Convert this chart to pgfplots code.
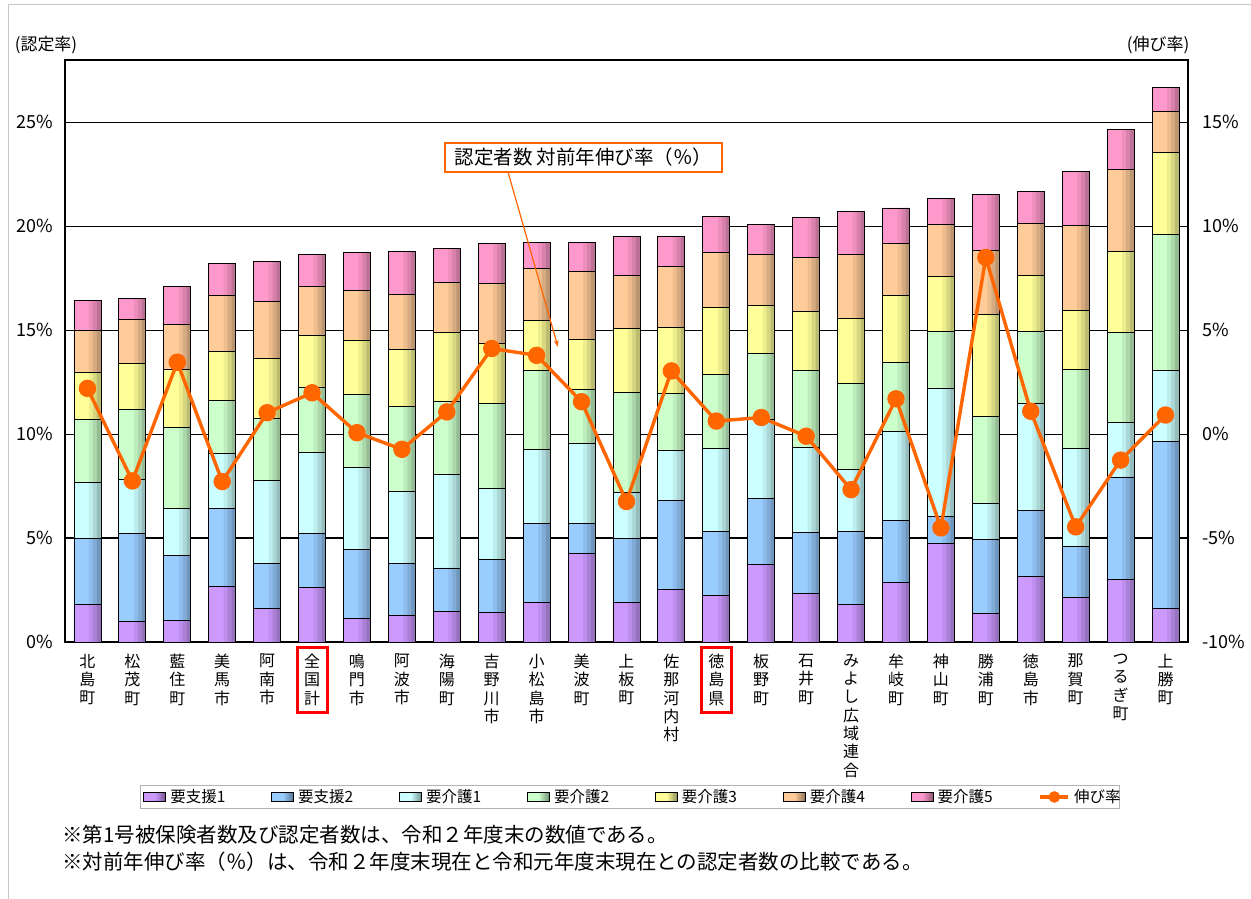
\documentclass[border=0pt]{standalone}
\usepackage{pgfplots}
\pgfplotsset{compat=1.18}
\usepackage{pgfplotstable}
\usepackage{fontspec}
\setmainfont{Noto Sans CJK JP}
\usetikzlibrary{arrows.meta}

\definecolor{cS1}{HTML}{CC99FF}
\definecolor{cS2}{HTML}{99CCFF}
\definecolor{cK1}{HTML}{CCFFFF}
\definecolor{cK2}{HTML}{CCFFCC}
\definecolor{cK3}{HTML}{FFFF99}
\definecolor{cK4}{HTML}{FFCC99}
\definecolor{cK5}{HTML}{FF99CC}
\definecolor{cRate}{HTML}{FF6600}

\pgfplotstableread{
x s1 s2 k1 k2 k3 k4 k5 rate
0 1.82 3.14 2.72 3.04 2.27 2.02 1.44 2.20
1 1.01 4.23 2.56 3.41 2.18 2.11 1.03 -2.25
2 1.05 3.12 2.27 3.90 2.75 2.19 1.81 3.46
3 2.69 3.75 2.62 2.58 2.33 2.70 1.52 -2.28
4 1.59 2.18 3.98 3.02 2.85 2.74 1.95 1.03
5 2.62 2.60 3.89 3.15 2.49 2.34 1.57 1.99
6 1.12 3.33 3.93 3.53 2.62 2.39 1.83 0.07
7 1.26 2.53 3.44 4.10 2.76 2.65 2.06 -0.73
8 1.47 2.09 4.51 3.52 3.28 2.45 1.59 1.07
9 1.40 2.56 3.44 4.07 2.88 2.88 1.96 4.12
10 1.92 3.79 3.54 3.79 2.45 2.49 1.26 3.79
11 4.26 1.45 3.84 2.62 2.39 3.25 1.43 1.56
12 1.92 3.04 2.23 4.80 3.09 2.55 1.87 -3.24
13 2.53 4.26 2.41 2.74 3.20 2.93 1.43 3.04
14 2.25 3.06 3.98 3.58 3.24 2.65 1.69 0.63
15 3.74 3.15 3.82 3.17 2.30 2.48 1.42 0.80
16 2.34 2.93 4.11 3.70 2.84 2.59 1.90 -0.10
17 1.82 3.49 2.98 4.14 3.14 3.06 2.08 -2.67
18 2.88 2.97 4.26 3.33 3.22 2.53 1.69 1.70
19 4.73 1.30 6.19 2.74 2.64 2.51 1.23 -4.51
20 1.39 3.56 1.73 4.19 4.87 3.10 2.71 8.50
21 3.16 3.19 5.11 3.47 2.71 2.49 1.55 1.10
22 2.15 2.45 4.70 3.79 2.88 4.07 2.60 -4.46
23 3.01 4.93 2.62 4.33 3.92 3.92 1.91 -1.25
24 1.61 8.05 3.41 6.55 3.92 2.00 1.16 0.92
}\data

\pgfplotsset{
  barsh/.style={draw=black, line width=0.9pt, fill=#1},
  barleg/.style={legend image code/.code={\draw[##1, left color=\pgfkeysvalueof{/pgfplots/legcol}, right color=\pgfkeysvalueof{/pgfplots/legcol}!55!black, middle color=\pgfkeysvalueof{/pgfplots/legcol}] (0pt,-4.5pt) rectangle (22pt,4.5pt);}},
  legcol/.initial=white,
  lineleg/.style={legend image code/.code={\draw[##1, mark repeat=2, mark phase=2, mark size=4pt] plot coordinates {(0pt,0pt) (14pt,0pt) (28pt,0pt)};}},
  common/.style={at={(65pt,257pt)}, anchor=south west, scale only axis,
    width=1123pt, height=582pt, xmin=-0.5, xmax=24.5,
    /pgf/number format/assume math mode=true},
  shade/.style 2 args={draw=none, fill=black, fill opacity=#2, bar width=#1pt, bar shift={(13.5-#1/2)*1pt}},
}

\begin{document}
\begin{tikzpicture}[x=1pt,y=1pt]
\path[use as bounding box] (0,0) rectangle (1251,899);
\draw[gray!45, line width=1pt] (8,0) -- (8,894) -- (1251,894);

\begin{axis}[common,
  ymin=0, ymax=28,
  ybar stacked, bar width=27pt,
  xtick={0,...,24},
  xticklabels={{北\\島\\町},{松\\茂\\町},{藍\\住\\町},{美\\馬\\市},{阿\\南\\市},{全\\国\\計},{鳴\\門\\市},{阿\\波\\市},{海\\陽\\町},{吉\\野\\川\\市},{小\\松\\島\\市},{美\\波\\町},{上\\板\\町},{佐\\那\\河\\内\\村},{徳\\島\\県},{板\\野\\町},{石\\井\\町},{み\\よ\\し\\広\\域\\連\\合},{牟\\岐\\町},{神\\山\\町},{勝\\浦\\町},{徳\\島\\市},{那\\賀\\町},{つ\\る\\ぎ\\町},{上\\勝\\町}},
  xticklabel style={anchor=north, align=center, inner sep=0pt, yshift=-12pt,
    font=\fontsize{16pt}{18.3pt}\selectfont},
  major x tick style={draw=none},
  extra x ticks={0.5,1.5,...,23.5},
  extra x tick labels={},
  extra x tick style={grid=none, tick align=inside, major tick length=5pt,
    major tick style={draw=gray!60, line width=0.8pt}},
  xtick pos=bottom,
  ytick={0,5,...,25},
  ytick pos=left,
  yticklabel={\pgfmathprintnumber{\tick}\%},
  yticklabel style={font=\fontsize{18pt}{18pt}\selectfont, inner sep=0pt, xshift=-12pt, anchor=east},
  major y tick style={draw=none},
  ymajorgrids, grid style={black, line width=1.2pt},
  axis line style={black, line width=1.2pt},
  axis on top=false,
]
\addplot[barsh=cS1] table[x=x, y=s1]{\data};
\addplot[barsh=cS2] table[x=x, y=s2]{\data};
\addplot[barsh=cK1] table[x=x, y=k1]{\data};
\addplot[barsh=cK2] table[x=x, y=k2]{\data};
\addplot[barsh=cK3] table[x=x, y=k3]{\data};
\addplot[barsh=cK4] table[x=x, y=k4]{\data};
\addplot[barsh=cK5] table[x=x, y=k5]{\data};
\end{axis}

% right-side darkening of each bar (same bar totals)
\begin{axis}[common, ymin=0, ymax=28, ybar, axis lines=none, ticks=none]
\addplot[shade={12}{0.07}] table[x=x, y expr=\thisrow{s1}+\thisrow{s2}+\thisrow{k1}+\thisrow{k2}+\thisrow{k3}+\thisrow{k4}+\thisrow{k5}]{\data};
\addplot[shade={8}{0.09}] table[x=x, y expr=\thisrow{s1}+\thisrow{s2}+\thisrow{k1}+\thisrow{k2}+\thisrow{k3}+\thisrow{k4}+\thisrow{k5}]{\data};
\addplot[shade={4}{0.12}] table[x=x, y expr=\thisrow{s1}+\thisrow{s2}+\thisrow{k1}+\thisrow{k2}+\thisrow{k3}+\thisrow{k4}+\thisrow{k5}]{\data};
\end{axis}

\begin{axis}[common,
  ymin=-10, ymax=18,
  hide x axis,
  axis y line*=right,
  y axis line style={draw=none},
  ytick={-10,-5,...,15},
  major y tick style={draw=none},
  yticklabel={\pgfmathprintnumber{\tick}\%},
  yticklabel style={font=\fontsize{18pt}{18pt}\selectfont, inner sep=0pt, xshift=14pt, anchor=west},
  legend columns=8,
  legend style={at={(0.0668,-0.2663)}, anchor=west, draw=gray!60, line width=0.8pt,
    font=\fontsize{15.5pt}{15.5pt}\selectfont, inner xsep=3pt, inner ysep=2pt,
    /tikz/every even column/.append style={column sep=15pt},
    /tikz/every odd column/.append style={column sep=2pt}},
]
\addlegendimage{barsh=cS1, legcol=cS1, barleg}\addlegendentry{\makebox[84pt][l]{要支援1}}
\addlegendimage{barsh=cS2, legcol=cS2, barleg}\addlegendentry{\makebox[84pt][l]{要支援2}}
\addlegendimage{barsh=cK1, legcol=cK1, barleg}\addlegendentry{\makebox[84pt][l]{要介護1}}
\addlegendimage{barsh=cK2, legcol=cK2, barleg}\addlegendentry{\makebox[84pt][l]{要介護2}}
\addlegendimage{barsh=cK3, legcol=cK3, barleg}\addlegendentry{\makebox[84pt][l]{要介護3}}
\addlegendimage{barsh=cK4, legcol=cK4, barleg}\addlegendentry{\makebox[84pt][l]{要介護4}}
\addlegendimage{barsh=cK5, legcol=cK5, barleg}\addlegendentry{\makebox[84pt][l]{要介護5}}
\addplot[cRate, line width=3.4pt, mark=*, mark size=7pt,
  mark options={fill=cRate, draw=cRate}, lineleg]
  table[x=x, y=rate]{\data};
\addlegendentry{\makebox[40pt][l]{伸び率}}
\end{axis}

% axis captions
\node[font=\fontsize{17pt}{17pt}\selectfont] at (46,854) {(認定率)};
\node[font=\fontsize{17pt}{17pt}\selectfont] at (1158,854) {(伸び率)};

% annotation
\draw[cRate, line width=1.2pt, -{Stealth[length=7pt,width=5pt]}] (508,727) -- (558,552);
\node[draw=cRate, line width=1.2pt, fill=white, inner sep=3pt, minimum width=277pt, minimum height=29pt,
  font=\fontsize{19.5pt}{19.5pt}\selectfont] at (583.5,741.5) {認定者数 対前年伸び率（％）};

% red boxes
\draw[red, line width=3pt] (297,186) rectangle (327,251);
\draw[red, line width=3pt] (701,186) rectangle (731,251);

% footnotes
\node[anchor=west, inner sep=0pt, font=\fontsize{20.5pt}{20.5pt}\selectfont] at (62,64) {※第1号被保険者数及び認定者数は、令和２年度末の数値である。};
\node[anchor=west, inner sep=0pt, font=\fontsize{20.5pt}{20.5pt}\selectfont] at (62,37) {※対前年伸び率（％）は、令和２年度末現在と令和元年度末現在との認定者数の比較である。};
\end{tikzpicture}
\end{document}
